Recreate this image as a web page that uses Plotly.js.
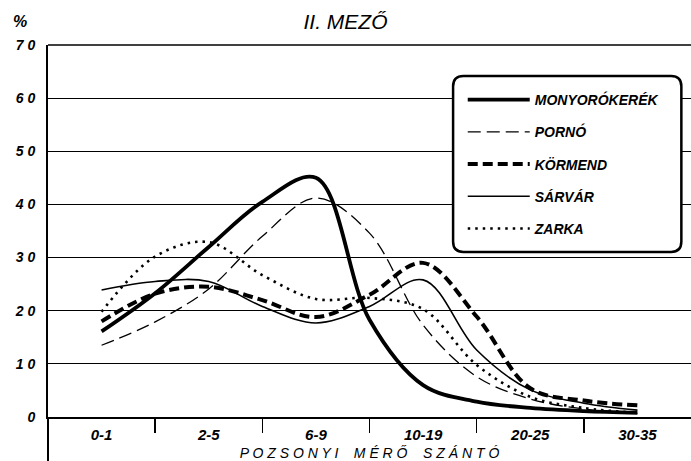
<!DOCTYPE html>
<html>
<head>
<meta charset="utf-8">
<script src="https://cdn.plot.ly/plotly-3.0.1.min.js"></script>
<style>html,body{margin:0;padding:0;background:#fff}#chart{width:691px;height:461px}</style>
</head>
<body>
<div id="chart"></div>
<script>
// Categories (Pozsonyi mérő szántó) and the positions along them where values were read
const categories = ['0-1', '2-5', '6-9', '10-19', '20-25', '30-35'];
const xPos = [0, 0.5, 1, 1.5, 2, 2.5, 3, 3.5, 4, 4.5, 5];

// Series values (%)
const monyorokerek = [16.1, 23.3, 32.0, 40.5, 45.0, 18.3, 6.0, 2.9, 1.7, 1.1, 0.8];
const porno        = [13.5, 17.9, 24.1, 34.0, 41.2, 34.6, 17.3, 7.6, 3.4, 1.5, 0.7];
const kormend      = [18.0, 23.2, 24.5, 22.0, 18.8, 23.0, 29.0, 18.9, 5.4, 3.1, 2.2];
const sarvar       = [23.9, 25.5, 25.5, 20.8, 17.7, 20.8, 25.8, 12.6, 5.1, 2.6, 1.3];
const zarka        = [19.8, 30.2, 32.9, 26.7, 22.2, 22.4, 20.3, 9.8, 3.8, 1.7, 0.8];

const seriesNames = ['MONYORÓKERÉK', 'PORNÓ', 'KÖRMEND', 'SÁRVÁR', 'ZARKA'];
const yTickVals = [0, 10, 20, 30, 40, 50, 60, 70];
const yTickText = ['0', '1 0', '2 0', '3 0', '4 0', '5 0', '6 0', '7 0'];

const seriesData = [monyorokerek, porno, kormend, sarvar, zarka];
const lineStyles = [
  {color: '#000', width: 3.8, dash: 'solid'},
  {color: '#000', width: 1.3, dash: '13px,6px'},
  {color: '#000', width: 4, dash: '10px,5px'},
  {color: '#000', width: 1.6, dash: 'solid'},
  {color: '#000', width: 2.6, dash: '2.5px,5px'}
];

const traces = seriesData.map((vals, i) => ({
  type: 'scatter',
  mode: 'lines',
  x: xPos,
  y: vals,
  name: seriesNames[i],
  legendgroup: 'g' + i,
  line: Object.assign({shape: 'spline', smoothing: 1.0}, lineStyles[i]),
  hoverinfo: 'skip'
}));

const fontFam = '"Liberation Sans", "DejaVu Sans", Arial, sans-serif';

// rounded legend frame (paper coords)
const x0 = 0.630, x1 = 0.985, y0 = 0.4435, y1 = 0.917, dx = 0.016, dy = 0.028;
const framePath = `M ${x0+dx},${y1} L ${x1-dx},${y1} Q ${x1},${y1} ${x1},${y1-dy} L ${x1},${y0+dy} Q ${x1},${y0} ${x1-dx},${y0} L ${x0+dx},${y0} Q ${x0},${y0} ${x0},${y0+dy} L ${x0},${y1-dy} Q ${x0},${y1} ${x0+dx},${y1} Z`;

const layout = {
  width: 691, height: 461,
  margin: {l: 48, r: 0, t: 45, b: 44},
  paper_bgcolor: '#fff', plot_bgcolor: '#fff',
  font: {family: fontFam, color: '#000'},
  title: {
    text: '<i>II. MEZŐ</i>',
    font: {family: fontFam, size: 21, color: '#000'},
    x: 0.5, xref: 'container', xanchor: 'center',
    y: 0.952, yref: 'container', yanchor: 'middle'
  },
  xaxis: {
    range: [-0.5, 5.5],
    tickmode: 'array', tickvals: [0, 1, 2, 3, 4, 5], ticktext: categories,
    ticks: '', ticklabelstandoff: 3,
    tickfont: {family: fontFam, size: 15, style: 'italic', weight: 'bold', color: '#000'},
    minor: {tickmode: 'array', tickvals: [0.5, 1.5, 2.5, 3.5, 4.5], ticks: 'outside', ticklen: 14, tickwidth: 1.5, tickcolor: '#000', showgrid: false},
    showgrid: false, zeroline: false,
    showline: true, linecolor: '#000', linewidth: 2,
    title: {text: '<i>P O Z S O N Y I    M É R Ő    S Z Á N T Ó</i>', font: {family: fontFam, size: 14, color: '#000'}, standoff: 7},
    fixedrange: true
  },
  yaxis: {
    range: [0, 70],
    tickmode: 'array', tickvals: yTickVals, ticktext: yTickText,
    ticks: '', ticklabelstandoff: 8,
    tickfont: {family: fontFam, size: 14, style: 'italic', weight: 'bold', color: '#000'},
    showgrid: true, gridcolor: '#000', gridwidth: 1,
    zeroline: false,
    showline: true, linecolor: '#000', linewidth: 2,
    fixedrange: true
  },
  showlegend: true,
  legend: {
    x: 0.645, y: 0.895, xanchor: 'left', yanchor: 'top',
    bgcolor: 'rgba(0,0,0,0)', borderwidth: 0,
    font: {family: fontFam, size: 14, style: 'italic', weight: 'bold', color: '#000'},
    itemwidth: 62, tracegroupgap: 11, traceorder: 'grouped'
  },
  shapes: [
    {type: 'path', xref: 'paper', yref: 'paper', path: framePath,
     fillcolor: '#fff', line: {color: '#000', width: 2.5}, layer: 'above'},
    {type: 'line', xref: 'paper', yref: 'paper', x0: 0, x1: 0, y0: 0, y1: -0.12,
     line: {color: '#000', width: 2}},
    {type: 'line', xref: 'paper', yref: 'paper', x0: 0, x1: 1, y0: 1, y1: 1,
     line: {color: '#000', width: 1.5}}
  ],
  annotations: [
    {xref: 'paper', yref: 'paper', x: -0.043, y: 1.062, text: '<b><i>%</i></b>', showarrow: false,
     font: {family: fontFam, size: 16, color: '#000'}, xanchor: 'center', yanchor: 'middle'}
  ]
};

Plotly.newPlot('chart', traces, layout, {displayModeBar: false, staticPlot: true});
</script>
</body>
</html>
